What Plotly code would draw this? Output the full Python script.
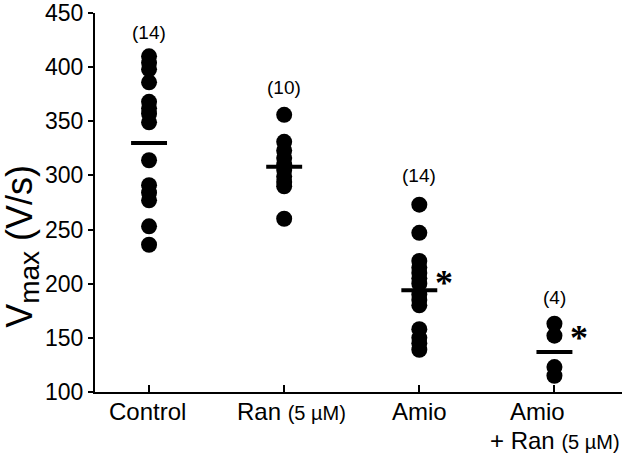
import plotly.graph_objects as go

categories = ["Control", "Ran", "Amio", "Amio + Ran"]
label_line1 = ["Control", "Ran <span style='font-size:20px'>(5 µM)</span>", "Amio", "Amio"]
label_line2 = ["", "", "", "+ Ran <span style='font-size:20px'>(5 µM)</span>"]
control = [410, 404, 398, 386, 368, 362, 357, 349, 314, 291, 284, 277, 253, 236]
ran = [356, 331, 323, 316, 310, 305, 299, 294, 290, 260]
amio = [273, 247, 221, 215, 210, 205, 200, 190, 185, 180, 158, 150, 145, 139]
amio_ran = [163, 152, 123, 115]
groups = [control, ran, amio, amio_ran]
means = [330, 308, 194, 137]
counts = ["(14)", "(10)", "(14)", "(4)"]
count_y = [432, 381, 300, 187]
signif = [False, False, True, True]
star_y = [None, None, 201, 150]
y_ticks = [100, 150, 200, 250, 300, 350, 400, 450]

FONT = "Arial, Liberation Sans, sans-serif"
fig = go.Figure()

for i, vals in enumerate(groups):
    fig.add_trace(go.Scatter(
        x=[i] * len(vals), y=vals, mode="markers",
        marker=dict(size=16, color="black"), showlegend=False, hoverinfo="y"))

half = 0.133
for i, m in enumerate(means):
    fig.add_trace(go.Scatter(
        x=[i - half, i + half], y=[m, m], mode="lines",
        line=dict(color="black", width=4), showlegend=False, hoverinfo="skip"))

for i, (c, cy) in enumerate(zip(counts, count_y)):
    fig.add_annotation(x=i, y=cy, text=c, showarrow=False,
                       font=dict(family=FONT, size=19, color="black"))

for i, s in enumerate(signif):
    if s:
        fig.add_annotation(x=i + 0.18, y=star_y[i], text="<b>*</b>", showarrow=False,
                           font=dict(family="Liberation Serif, serif", size=36, color="black"))

# category labels under the ticks
line1_shift = [-2, 7, 0, -17]
line2_shift = [0, 0, 0, 1]
for i in range(len(categories)):
    fig.add_annotation(x=i, xref="x", y=0, yref="paper", yanchor="middle",
                       xshift=line1_shift[i], yshift=-19, text=label_line1[i],
                       showarrow=False, font=dict(family=FONT, size=24, color="black"))
    if label_line2[i]:
        fig.add_annotation(x=i, xref="x", y=0, yref="paper", yanchor="middle",
                           xshift=line2_shift[i], yshift=-48, text=label_line2[i],
                           showarrow=False, font=dict(family=FONT, size=24, color="black"))

fig.add_annotation(xref="paper", yref="paper", x=-0.139, y=0.385,
                   xanchor="center", yanchor="middle", borderpad=0,
                   text="V<sub><span style='font-size:28px'>max</span></sub> (V/s)",
                   textangle=-90, showarrow=False,
                   font=dict(family=FONT, size=36, color="black"))

fig.update_xaxes(
    range=[-0.40, 3.50], tickmode="array", tickvals=list(range(len(categories))),
    showticklabels=False, ticks="inside", ticklen=7, tickwidth=2, tickcolor="black",
    showline=True, linecolor="black", linewidth=2, showgrid=False, zeroline=False,
    automargin=False)
fig.update_yaxes(
    range=[100, 450], tickvals=y_ticks,
    ticks="outside", ticklen=5, tickwidth=2, tickcolor="black",
    showline=True, linecolor="black", linewidth=2, showgrid=False, zeroline=False,
    automargin=False, tickfont=dict(family=FONT, size=23, color="black"))

fig.update_layout(
    width=624, height=454, margin=dict(l=95, r=2, t=13, b=62, autoexpand=False),
    plot_bgcolor="white", paper_bgcolor="white", showlegend=False)

# remove the default 8px page margin so the figure fills the window exactly
fig.write_html("out.html", config={"displayModeBar": False},
               post_script="document.body.style.margin='0';document.body.style.overflow='hidden';")
